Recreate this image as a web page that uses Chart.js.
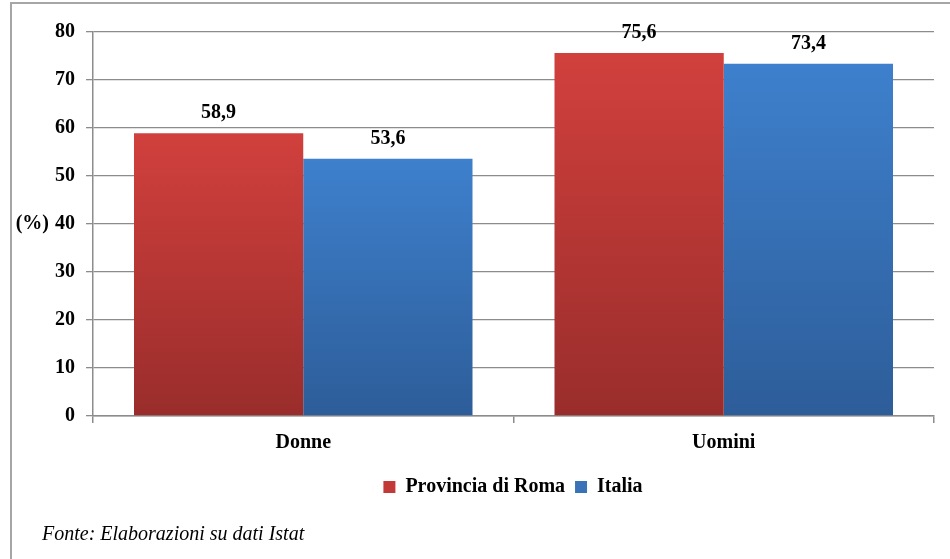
<!DOCTYPE html>
<html lang="it">
<head>
    <meta charset="UTF-8">
    <title>Tasso di occupazione - Provincia di Roma e Italia</title>
    <script src="https://cdn.jsdelivr.net/npm/chart.js"></script>
    <style>
        html, body {
            margin: 0;
            padding: 0;
            background: #fff;
            overflow: hidden;
        }
        #frame {
            position: absolute;
            left: 10px;
            top: 2px;
            width: 1000px;
            height: 700px;
            border: 2px solid #a6a6a6;
        }
        #wrap {
            position: absolute;
            left: 0;
            top: 0;
            width: 950px;
            height: 559px;
        }
    </style>
</head>
<body>
    <div id="frame"></div>
    <div id="wrap"><canvas id="occChart"></canvas></div>

    <script>
        const categories = ['Donne', 'Uomini'];
        const romaValues = [58.9, 75.6];
        const italiaValues = [53.6, 73.4];
        const yTicks = [0, 10, 20, 30, 40, 50, 60, 70, 80];
        const seriesNames = ['Provincia di Roma', 'Italia'];
        const footnote = 'Fonte: Elaborazioni su dati Istat';

        const serif = '"Liberation Serif", "Times New Roman", serif';

        // vertical gradient for each bar, light on top and darker at the base
        function barGradient(top, bottom) {
            return function (context) {
                const chart = context.chart;
                const y = chart.scales.y;
                if (!y || context.parsed === undefined) return top;
                const y0 = y.getPixelForValue(context.parsed.y);
                const y1 = y.getPixelForValue(0);
                if (!isFinite(y0) || !isFinite(y1) || y0 === y1) return top;
                const g = chart.ctx.createLinearGradient(0, y0, 0, y1);
                g.addColorStop(0, top);
                g.addColorStop(1, bottom);
                return g;
            };
        }

        // value labels with comma as decimal separator
        const valueLabels = {
            id: 'valueLabels',
            afterDatasetsDraw(chart) {
                const ctx = chart.ctx;
                ctx.save();
                ctx.font = 'bold 20px ' + serif;
                ctx.fillStyle = '#000';
                ctx.textAlign = 'center';
                ctx.textBaseline = 'middle';
                chart.data.datasets.forEach((ds, i) => {
                    chart.getDatasetMeta(i).data.forEach((bar, j) => {
                        const txt = ds.data[j].toFixed(1).replace('.', ',');
                        ctx.fillText(txt, bar.x, bar.y - 20);
                    });
                });
                ctx.restore();
            }
        };

        // legend sits a bit right of the canvas centre in the original
        const legendShift = {
            id: 'legendShift',
            afterLayout(chart) {
                if (chart.legend) {
                    chart.legend.left += 46;
                    chart.legend.right += 46;
                }
            }
        };

        // "(%)" beside the 40 tick, and the source note
        const extraText = {
            id: 'extraText',
            afterDraw(chart) {
                const ctx = chart.ctx;
                const y = chart.scales.y;
                ctx.save();
                ctx.fillStyle = '#000';
                ctx.font = 'bold 20px ' + serif;
                ctx.textAlign = 'right';
                ctx.textBaseline = 'middle';
                ctx.fillText('(%)', 49, y.getPixelForValue(40));
                ctx.font = 'italic 20px ' + serif;
                ctx.textAlign = 'left';
                ctx.textBaseline = 'alphabetic';
                ctx.fillText(footnote, 42, 540);
                ctx.restore();
            }
        };

        const ctx = document.getElementById('occChart').getContext('2d');

        const occChart = new Chart(ctx, {
            type: 'bar',
            data: {
                labels: categories,
                datasets: [{
                    label: seriesNames[0],
                    data: romaValues,
                    backgroundColor: barGradient('#d1403d', '#992d2b'),
                    legendColor: '#c23a37',
                    borderWidth: 0
                }, {
                    label: seriesNames[1],
                    data: italiaValues,
                    backgroundColor: barGradient('#3e80cd', '#2d5d99'),
                    legendColor: '#3a72b8',
                    borderWidth: 0
                }]
            },
            options: {
                responsive: true,
                maintainAspectRatio: false,
                animation: false,
                categoryPercentage: 0.805,
                barPercentage: 1,
                layout: {
                    padding: { left: 0, right: 16, top: 32, bottom: 52 }
                },
                scales: {
                    x: {
                        grid: {
                            offset: true,
                            drawOnChartArea: false,
                            drawTicks: true,
                            tickLength: 7,
                            color: '#8c8c8c',
                            lineWidth: 1.5
                        },
                        border: { color: '#8c8c8c', width: 1.5 },
                        ticks: {
                            color: '#000',
                            padding: 8,
                            font: { family: serif, size: 20, weight: 'bold' }
                        },
                        afterFit(scale) { scale.height = 51; }
                    },
                    y: {
                        min: 0,
                        max: 80,
                        afterBuildTicks(scale) {
                            scale.ticks = yTicks.map(v => ({ value: v }));
                        },
                        grid: {
                            color: '#8c8c8c',
                            lineWidth: 1.3,
                            tickLength: 7
                        },
                        border: { color: '#8c8c8c', width: 1.5 },
                        ticks: {
                            color: '#000',
                            padding: 11,
                            font: { family: serif, size: 20, weight: 'bold' }
                        },
                        afterFit(scale) { scale.width = 93; }
                    }
                },
                plugins: {
                    legend: {
                        position: 'bottom',
                        labels: {
                            color: '#000',
                            boxWidth: 12,
                            boxHeight: 12,
                            padding: 10,
                            font: { family: serif, size: 20, weight: 'bold' },
                            generateLabels(chart) {
                                return chart.data.datasets.map((ds, i) => ({
                                    text: ds.label,
                                    fillStyle: ds.legendColor,
                                    strokeStyle: ds.legendColor,
                                    lineWidth: 0,
                                    datasetIndex: i,
                                    fontColor: '#000'
                                }));
                            }
                        }
                    },
                    tooltip: { enabled: false }
                }
            },
            plugins: [valueLabels, legendShift, extraText]
        });
    </script>
</body>
</html>
